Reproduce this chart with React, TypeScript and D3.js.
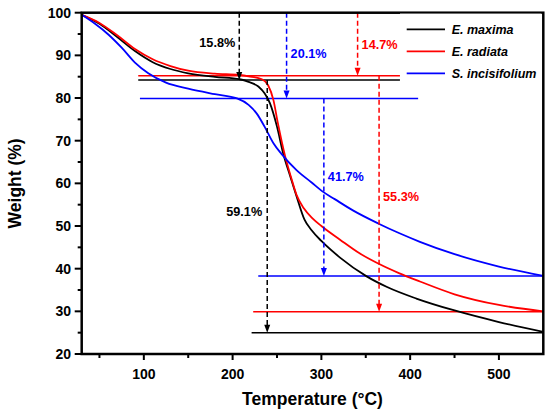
import React from "react";
import * as d3 from "d3";

const blackT = [30, 50, 70, 90, 110, 130, 150, 180, 208, 218, 229, 236, 242, 250, 257, 265, 272, 281, 289, 300, 321, 351, 374, 407, 450, 500, 550];
const blackW = [99.5, 97.4, 94.3, 91.0, 88.4, 86.8, 85.8, 84.95, 84.4, 83.8, 82.7, 81.1, 78.8, 73.3, 67.0, 61.6, 57.0, 51.5, 49.0, 46.5, 42.6, 38.2, 35.7, 33.0, 30.2, 27.5, 25.2];

const redT = [30, 50, 70, 90, 110, 130, 150, 180, 208, 218, 233, 240, 246, 251, 259, 266, 272, 280, 290, 300, 321, 343, 364, 388, 411, 450, 500, 550];
const redW = [99.5, 97.6, 94.7, 91.5, 89.1, 87.5, 86.4, 85.7, 85.4, 85.1, 84.4, 83.0, 79.5, 74.1, 66.5, 61.3, 57.3, 54.2, 51.8, 50.0, 46.8, 43.6, 41.2, 38.9, 37.0, 34.0, 31.5, 30.0];

const blueT = [30, 45, 60, 75, 90, 105, 125, 150, 180, 205, 218, 227, 236, 246, 255, 272, 289, 302, 315, 336, 364, 388, 411, 450, 500, 550];
const blueW = [99.5, 97.4, 94.9, 91.8, 88.3, 85.8, 83.6, 82.2, 80.9, 79.9, 78.4, 76.4, 73.3, 69.4, 66.9, 63.1, 60.2, 58.0, 56.3, 53.6, 50.6, 48.3, 46.3, 43.4, 40.5, 38.3];

const seriesNames = ["E. maxima", "E. radiata", "S. incisifolium"];
const seriesColors = ["#000000", "#ff0000", "#0000ff"];

// plateau / residue levels
const upperLevels = [84.2, 85.2, 79.9];
const upperFrom = [93.7, 93.7, 95.6];
const upperTo = [388.5, 388.5, 409];
const lowerLevels = [25.0, 29.9, 38.3];
const lowerFrom = [221.4, 223.2, 228.9];

// arrows: first-stage (from top) and second-stage
const stage1T = [207.5, 340.8, 260.8];
const stage1Label = ["15.8%", "14.7%", "20.1%"];
const stage2T = [239, 365, 302.8];
const stage2Label = ["59.1%", "55.3%", "41.7%"];

const xTicks = [100, 200, 300, 400, 500];
const xMinor = [50, 150, 250, 350, 450];
const yTicks = [20, 30, 40, 50, 60, 70, 80, 90, 100];
const yMinor = [25, 35, 45, 55, 65, 75, 85, 95];

export default function App() {
  const x = d3.scaleLinear().domain([30, 550]).range([81.7, 543.3]);
  const y = d3.scaleLinear().domain([20, 100]).range([354, 12.7]);
  const line = d3
    .line<[number, number]>()
    .x((d) => x(d[0]))
    .y((d) => y(d[1]))
    .curve(d3.curveMonotoneX);

  const series = [
    d3.zip(blackT, blackW) as [number, number][],
    d3.zip(redT, redW) as [number, number][],
    d3.zip(blueT, blueW) as [number, number][],
  ];

  const font = "'Liberation Sans', Arial, sans-serif";
  const [x0, x1] = x.range();
  const [yb, yt] = y.range();

  const arrow = (t: number, fromY: number, toLevel: number, color: string, key: string) => {
    const xp = x(t);
    const tip = y(toLevel);
    return (
      <g key={key}>
        <line x1={xp} x2={xp} y1={fromY} y2={tip - 7} stroke={color} strokeWidth={1.5} strokeDasharray="5,3" />
        <polygon points={`${xp - 3},${tip - 8} ${xp + 3},${tip - 8} ${xp},${tip}`} fill={color} />
      </g>
    );
  };

  const s1Anchor = ["end", "start", "start"];
  const s1Y = [47, 49, 58];
  const s2Anchor = ["end", "start", "start"];
  const s2Y = [216, 201, 181];

  return (
    <div style={{ position: "fixed", left: 0, top: 0 }}>
      <svg width={550} height={414} style={{ display: "block", background: "#fff" }}>
        {upperLevels.map((lv, i) => (
          <line key={"u" + i} x1={x(upperFrom[i])} x2={x(upperTo[i])} y1={y(lv)} y2={y(lv)} stroke={seriesColors[i]} strokeWidth={1.5} />
        ))}
        {lowerLevels.map((lv, i) => (
          <line key={"l" + i} x1={x(lowerFrom[i])} x2={x1} y1={y(lv)} y2={y(lv)} stroke={seriesColors[i]} strokeWidth={1.5} />
        ))}
        {series.map((s, i) => (
          <path key={"c" + i} d={line(s) || ""} fill="none" stroke={seriesColors[i]} strokeWidth={1.8} />
        ))}
        {stage1T.map((t, i) => arrow(t, yt, upperLevels[i], seriesColors[i], "a1" + i))}
        {stage2T.map((t, i) => arrow(t, y(upperLevels[i]), lowerLevels[i], seriesColors[i], "a2" + i))}
        {stage1T.map((t, i) => (
          <text key={"t1" + i} x={x(t) + (s1Anchor[i] === "end" ? -4 : 4)} y={s1Y[i]} textAnchor={s1Anchor[i] as any}
            fontFamily={font} fontWeight="bold" fontSize={12.7} fill={seriesColors[i]}>
            {stage1Label[i]}
          </text>
        ))}
        {stage2T.map((t, i) => (
          <text key={"t2" + i} x={x(t) + (s2Anchor[i] === "end" ? -5 : 4)} y={s2Y[i]} textAnchor={s2Anchor[i] as any}
            fontFamily={font} fontWeight="bold" fontSize={12.7} fill={seriesColors[i]}>
            {stage2Label[i]}
          </text>
        ))}
        <rect x={x0} y={yt} width={x1 - x0} height={yb - yt} fill="none" stroke="#000" strokeWidth={2.5} />
        <rect x={400} y={13.6} width={141.5} height={76} fill="#fff" />
        {seriesNames.map((n, i) => (
          <g key={"lg" + i}>
            <line x1={406.7} x2={445} y1={29.3 + i * 22} y2={29.3 + i * 22} stroke={seriesColors[i]} strokeWidth={1.8} />
            <text x={451.7} y={29.3 + i * 22 + 4.5} fontFamily={font} fontWeight="bold" fontStyle="italic" fontSize={12.5} fill="#000">
              {n}
            </text>
          </g>
        ))}
        {xTicks.map((t) => (
          <g key={"xt" + t}>
            <line x1={x(t)} x2={x(t)} y1={yb} y2={yb + 6} stroke="#000" strokeWidth={2} />
            <text x={x(t)} y={378.5} textAnchor="middle" fontFamily={font} fontWeight="bold" fontSize={14}>{t}</text>
          </g>
        ))}
        {xMinor.map((t) => (
          <line key={"xm" + t} x1={x(t)} x2={x(t)} y1={yb} y2={yb + 4} stroke="#000" strokeWidth={2} />
        ))}
        {yTicks.map((t) => (
          <g key={"yt" + t}>
            <line x1={x0 - 7} x2={x0} y1={y(t)} y2={y(t)} stroke="#000" strokeWidth={2} />
            <text x={71} y={y(t) + 5} textAnchor="end" fontFamily={font} fontWeight="bold" fontSize={14}>{t}</text>
          </g>
        ))}
        {yMinor.map((t) => (
          <line key={"ym" + t} x1={x0 - 4} x2={x0} y1={y(t)} y2={y(t)} stroke="#000" strokeWidth={2} />
        ))}
        <text x={312.5} y={405} textAnchor="middle" fontFamily={font} fontWeight="bold" fontSize={17.5}>Temperature (°C)</text>
        <text transform={`translate(21,${(yb + yt) / 2}) rotate(-90)`} textAnchor="middle" fontFamily={font} fontWeight="bold" fontSize={17.5}>
          Weight (%)
        </text>
      </svg>
    </div>
  );
}
